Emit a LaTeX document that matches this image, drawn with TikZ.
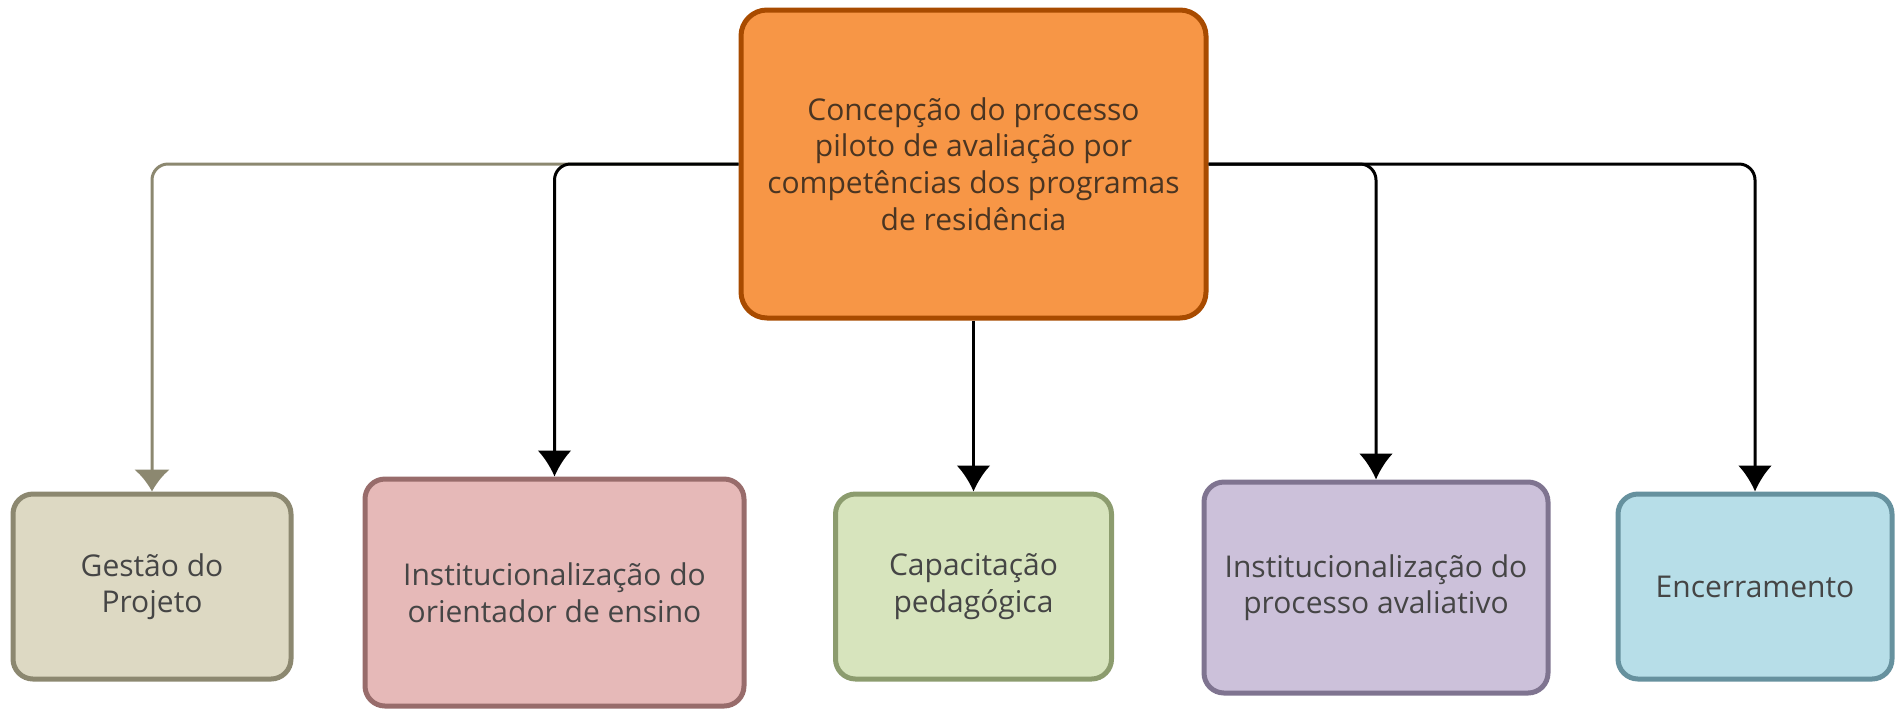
\documentclass[tikz,border=0pt]{standalone}
\usepackage{fontspec}
\setmainfont{Open Sans}
\usetikzlibrary{arrows.meta}
\definecolor{topfill}{HTML}{F79646}
\definecolor{topline}{HTML}{A84B00}
\definecolor{gfill}{HTML}{DDD9C3}
\definecolor{gline}{HTML}{8C8870}
\definecolor{ofill}{HTML}{E6B9B8}
\definecolor{oline}{HTML}{986C6B}
\definecolor{cfill}{HTML}{D7E4BD}
\definecolor{cline}{HTML}{8C9C6E}
\definecolor{pfill}{HTML}{CCC1DA}
\definecolor{pline}{HTML}{7F7490}
\definecolor{efill}{HTML}{B7DEE8}
\definecolor{eline}{HTML}{66919E}
\definecolor{txt}{HTML}{454545}
\definecolor{toptxt}{HTML}{4A3522}
\tikzset{
  box/.style={draw, rounded corners=10pt, line width=2.5pt, align=center,
    inner sep=0pt, text=txt, font=\fontsize{15}{18.3}\selectfont},
  conn/.style={line width=1.5pt, rounded corners=8pt,
    -{Latex[length=13pt,width=17pt]}},
}
\begin{document}
\begin{tikzpicture}[x=0.5pt,y=-0.5pt]
\useasboundingbox (0,0) rectangle (1895,708);
\node[box, fill=topfill, draw=topline, text=toptxt, rounded corners=13pt,
  minimum width=232.5pt, minimum height=154pt] (top) at (973.5,164)
  {Concepção do processo\\piloto de avaliação por\\competências dos programas\\de residência};
\node[box, fill=gfill, draw=gline, minimum width=139pt, minimum height=92.5pt]
  (gestao) at (152,586.5) {Gestão do\\Projeto};
\node[box, fill=ofill, draw=oline, minimum width=189.5pt, minimum height=113.5pt]
  (orient) at (554.5,592.5) {Institucionalização do\\orientador de ensino};
\node[box, fill=cfill, draw=cline, minimum width=138pt, minimum height=92.5pt]
  (capac) at (973.5,586.5) {Capacitação\\pedagógica};
\node[box, fill=pfill, draw=pline, minimum width=172pt, minimum height=105.5pt]
  (proc) at (1376,587.5) {Institucionalização do\\processo avaliativo};
\node[box, fill=efill, draw=eline, minimum width=137pt, minimum height=92.5pt]
  (encer) at (1755,586.5) {Encerramento};
\draw[conn, draw=gline, -{Latex[length=11pt,width=18pt]}] (top.west) -| (gestao.north);
\draw[conn] (top.west) -| (orient.north);
\draw[conn] (top.south) -- (capac.north);
\draw[conn] (top.east) -| (proc.north);
\draw[conn] (top.east) -| (encer.north);
\end{tikzpicture}
\end{document}
